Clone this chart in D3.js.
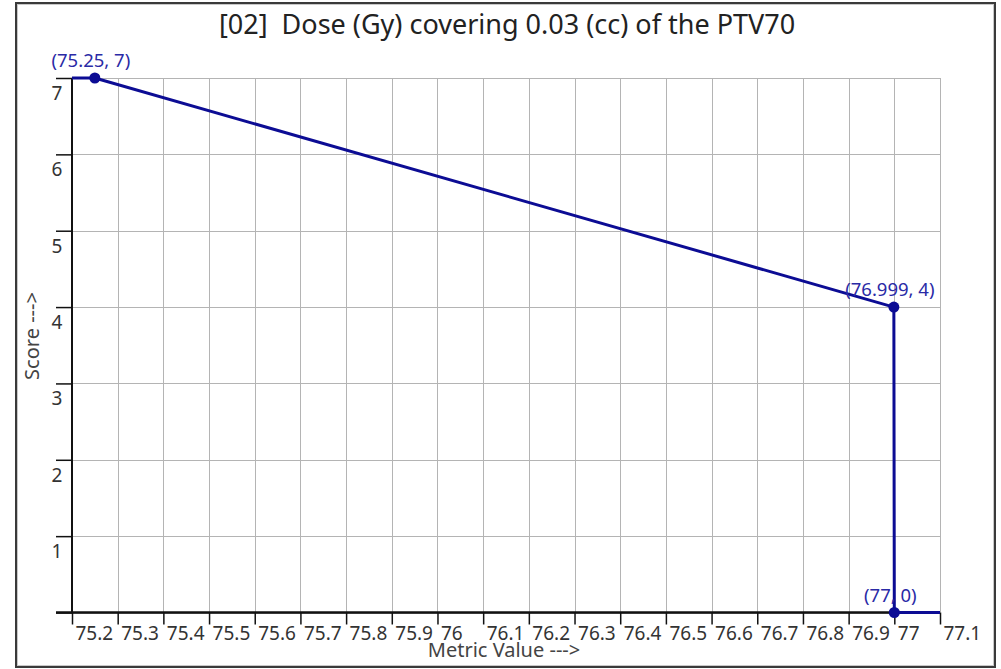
<!DOCTYPE html>
<html><head><meta charset="utf-8">
<script src="https://cdn.jsdelivr.net/npm/d3@7"></script>
<style>body{margin:0;background:#fff;} svg{display:block;} text{white-space:pre;}</style>
</head><body>
<svg id="c" width="1001" height="669"></svg>
<script>
const title = "[02]  Dose (Gy) covering 0.03 (cc) of the PTV70";
const xLabel = "Metric Value --->";
const yLabel = "Score --->";
const xTicks = [75.2,75.3,75.4,75.5,75.6,75.7,75.8,75.9,76,76.1,76.2,76.3,76.4,76.5,76.6,76.7,76.8,76.9,77,77.1];
const yTicks = [0,1,2,3,4,5,6,7];
const yTickLabels = ["","1","2","3","4","5","6","7"];
const lineX = [75.2, 75.25, 76.999, 77, 77.1];
const lineY = [7, 7, 4, 0, 0];
const pointX = [75.25, 76.999, 77];
const pointY = [7, 4, 0];
const pointLabels = ["(75.25, 7)", "(76.999, 4)", "(77, 0)"];

const svg = d3.select("#c");
const font = "'Noto Sans', 'Open Sans', sans-serif";
const x = d3.scaleLinear().domain([75.2, 77.1]).range([72, 940]);
const y = d3.scaleLinear().domain([0, 7]).range([612.5, 78]);

// frame
svg.append("rect").attr("x",16).attr("y",3).attr("width",979).attr("height",664)
  .attr("fill","none").attr("stroke","#3a3a3a").attr("stroke-width",2);
svg.append("rect").attr("x",17.5).attr("y",4.5).attr("width",976).attr("height",661)
  .attr("fill","none").attr("stroke","#c8c8c8").attr("stroke-width",1);

// grid
const g = svg.append("g");
g.selectAll(".vg").data(xTicks).join("line")
  .attr("x1",d=>Math.round(x(d))+0.5).attr("x2",d=>Math.round(x(d))+0.5)
  .attr("y1",y(7)).attr("y2",y(0)).attr("stroke","#b4b4b4").attr("stroke-width",1);
g.selectAll(".hg").data(yTicks).join("line")
  .attr("x1",x(75.2)).attr("x2",x(77.1))
  .attr("y1",d=>Math.round(y(d))+0.5).attr("y2",d=>Math.round(y(d))+0.5)
  .attr("stroke","#b4b4b4").attr("stroke-width",1);

// axes
const xAxis = d3.axisBottom(x).tickValues(xTicks).tickSize(12).tickFormat(d3.format("~g"));
const ax = svg.append("g").attr("transform",`translate(0,${y(0)})`).call(xAxis);
ax.select(".domain").remove();
ax.append("line").attr("x1",56).attr("x2",x(77.1)).attr("y1",0).attr("y2",0).attr("stroke","#111").attr("stroke-width",2.5);
ax.selectAll(".tick line").attr("stroke","#111").attr("stroke-width",1.5);
ax.selectAll(".tick text").attr("font-family",font).attr("font-size",19).attr("fill","#333")
  .attr("text-anchor","start").attr("x",3).attr("y",27.5).attr("dy",0);

const yAxis = d3.axisLeft(y).tickValues(yTicks).tickSize(16).tickFormat((d,i)=>yTickLabels[i]);
const ay = svg.append("g").attr("transform",`translate(${x(75.2)},0)`).call(yAxis);
ay.select(".domain").remove();
ay.append("line").attr("x1",0).attr("x2",0).attr("y1",y(7)).attr("y2",y(0)).attr("stroke","#111").attr("stroke-width",2);
ay.selectAll(".tick line").attr("stroke","#111").attr("stroke-width",1.5);
ay.selectAll(".tick text").attr("font-family",font).attr("font-size",19).attr("fill","#333")
  .attr("text-anchor","middle").attr("x",-15).attr("y",21.5).attr("dy",0);

// line
const pts = lineX.map((v,i)=>[v,lineY[i]]);
svg.append("path").datum(pts)
  .attr("d", d3.line().x(d=>x(d[0])).y(d=>y(d[1])))
  .attr("fill","none").attr("stroke","#0c0c94").attr("stroke-width",3).attr("stroke-linejoin","round");
svg.selectAll(".pt").data(pointX).join("circle")
  .attr("cx",d=>x(d)).attr("cy",(d,i)=>y(pointY[i])).attr("r",5.5).attr("fill","#0c0c94");
svg.selectAll(".pl").data(pointX).join("text")
  .attr("x",d=>x(d)-4).attr("y",(d,i)=>y(pointY[i])-11)
  .attr("text-anchor","middle").attr("font-family",font).attr("font-size",18.5)
  .attr("fill","#2a2aa6").text((d,i)=>pointLabels[i]);

// titles
svg.append("text").attr("x",507).attr("y",34).attr("text-anchor","middle")
  .attr("font-family",font).attr("font-size",27).attr("fill","#222").text(title);
svg.append("text").attr("x",504).attr("y",657).attr("text-anchor","middle")
  .attr("font-family",font).attr("font-size",20).attr("fill","#444").text(xLabel);
svg.append("text").attr("transform","translate(39,336) rotate(-90)").attr("text-anchor","middle")
  .attr("font-family",font).attr("font-size",20).attr("fill","#444").text(yLabel);
</script>
</body></html>
